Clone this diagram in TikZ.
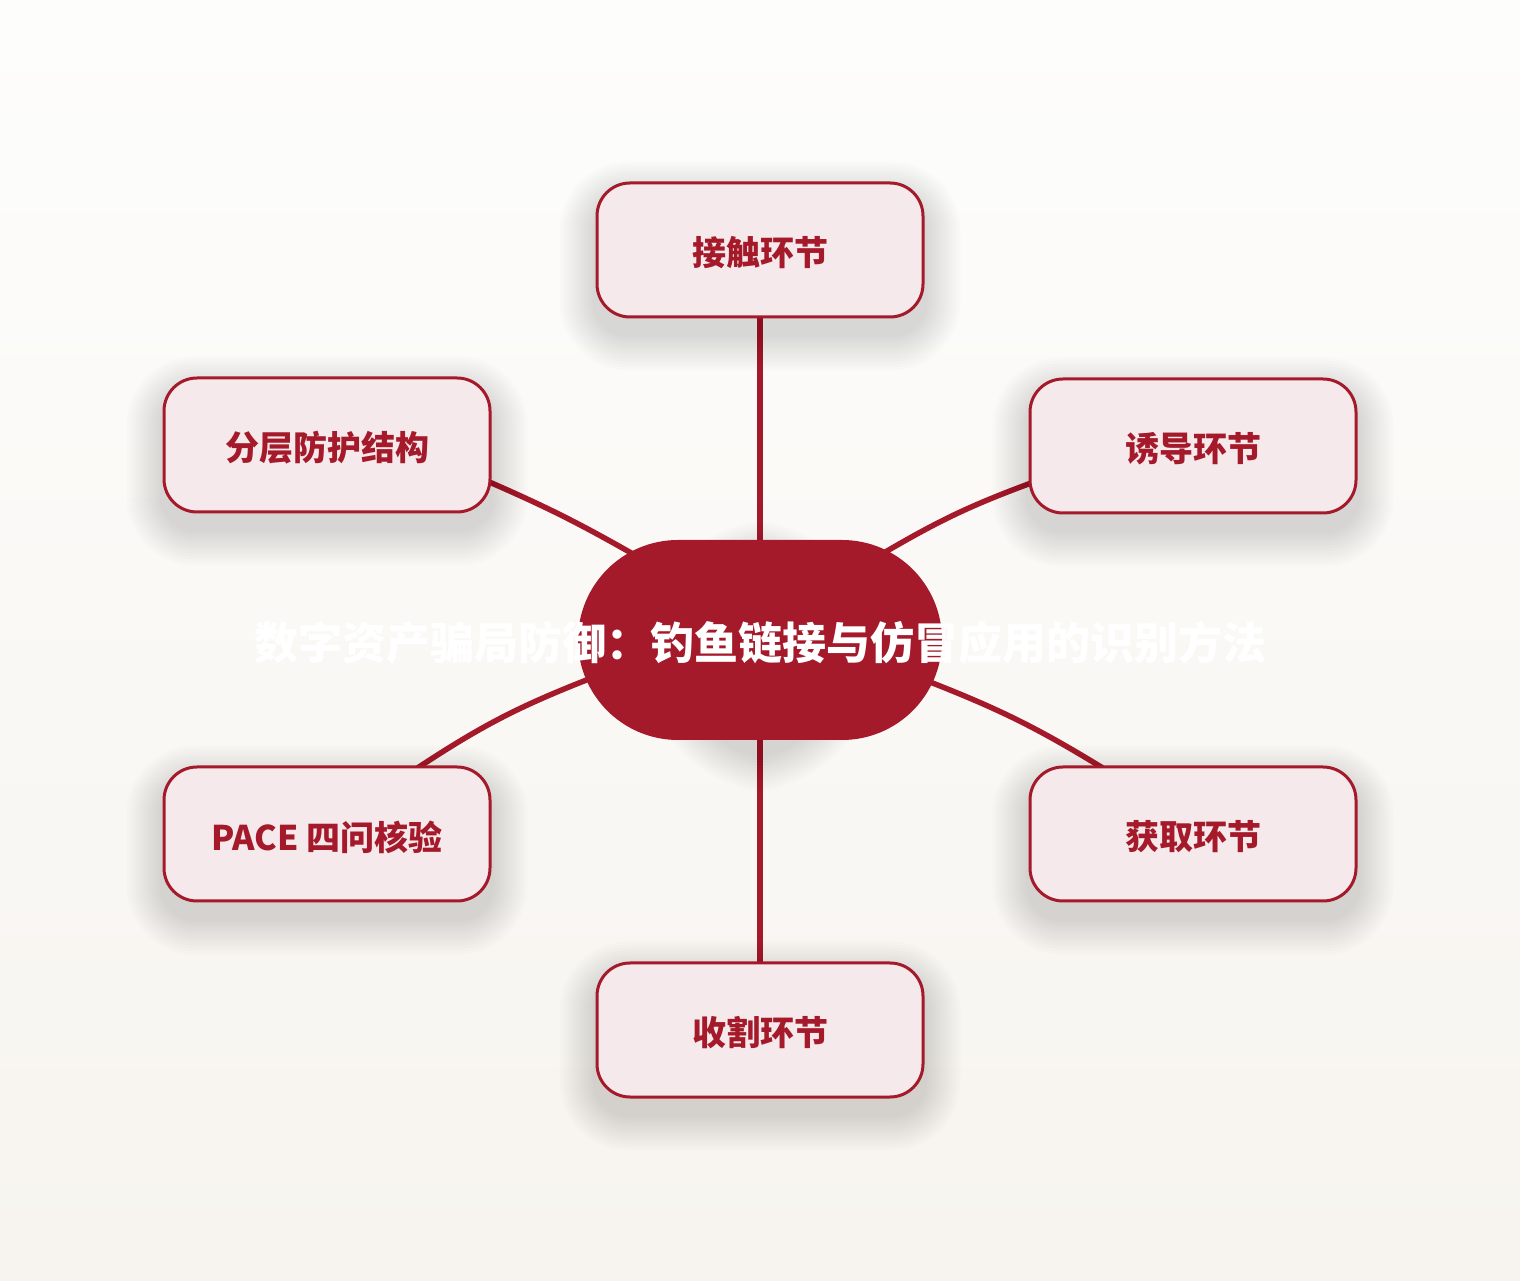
\documentclass[tikz,border=0pt]{standalone}
\usepackage{fontspec}
\usepackage{tikz}
\usetikzlibrary{shapes.misc,calc}
\newfontfamily\cjk{Noto Sans CJK SC}
\definecolor{ink}{HTML}{A51A2B}
\definecolor{boxpink}{HTML}{F5E9EC}
\definecolor{paperTop}{HTML}{FDFDFC}
\definecolor{paperBot}{HTML}{F7F4EF}
\pgfdeclarelayer{paper}
\pgfdeclarelayer{links}
\pgfdeclarelayer{glow}
\pgfsetlayers{paper,links,glow,main}
\newcommand{\lowtext}[1]{\raisebox{-3pt}[\height][\depth]{#1}}

\begin{document}
\begin{tikzpicture}[x=1pt,y=1pt,
    stage/.style={draw=ink,line width=3pt,fill=boxpink,rounded corners=33pt,
        minimum width=326pt,minimum height=134pt,text=ink,font=\cjk\bfseries\fontsize{34}{40}\selectfont},
    hubnode/.style={rounded rectangle,fill=ink,minimum width=364pt,minimum height=200pt,inner sep=0pt},
    link/.style={draw=ink,line width=5.5pt,line cap=round,shorten <=-4pt,shorten >=-4pt}]
	\useasboundingbox (0,0) rectangle (1520,1280);
	\begin{pgfonlayer}{paper}
		\shade[top color=paperTop,bottom color=paperBot] (0,0) rectangle (1520,1280);
	\end{pgfonlayer}
	\node[hubnode] (hub) at (760,640) {};
	\node[text=white,font=\cjk\bfseries\fontsize{44}{52}\selectfont] (title) at (760,637) {数字资产骗局防御：钓鱼链接与仿冒应用的识别方法};
	\node[stage] (contact) at (760,1030) {\lowtext{接触环节}};
	\node[stage] (lure) at (1193,834) {\lowtext{诱导环节}};
	\node[stage] (grab) at (1193,446) {\lowtext{获取环节}};
	\node[stage] (harvest) at (760,250) {\lowtext{收割环节}};
	\node[stage] (pace) at (327,446) {\lowtext{PACE 四问核验}};
	\node[stage] (layers) at (327,835) {\lowtext{分层防护结构}};
	\begin{pgfonlayer}{glow}
		\foreach \n in {contact,lure,grab,harvest,pace,layers}
			\foreach \k in {1,...,12}
				\fill[black,opacity=0.011,rounded corners={33pt+\k*3pt}]
					($(\n.south west)+(-\k*3,-16-\k*3)$) rectangle ($(\n.north east)+(\k*3,-16+\k*3)$);
		\foreach \k in {1,...,12}
			\fill[black,opacity=0.011,rounded corners={100pt+\k*3pt}]
				($(hub.south west)+(-\k*3,-16-\k*3)$) rectangle ($(hub.north east)+(\k*3,-16+\k*3)$);
	\end{pgfonlayer}
	\begin{pgfonlayer}{links}
		\draw[link] (hub.north) -- (contact.south);
		\draw[link] (hub.35) to[bend left=5] (lure.193.5);
		\draw[link] (hub.-14.4) to[bend left=5] (grab.144.2);
		\draw[link] (hub.south) -- (harvest.north);
		\draw[link] (pace.36.4) to[bend left=6] (hub.193.8);
		\draw[link] (layers.-13) to[bend left=3] (hub.146);
	\end{pgfonlayer}
\end{tikzpicture}
\end{document}
